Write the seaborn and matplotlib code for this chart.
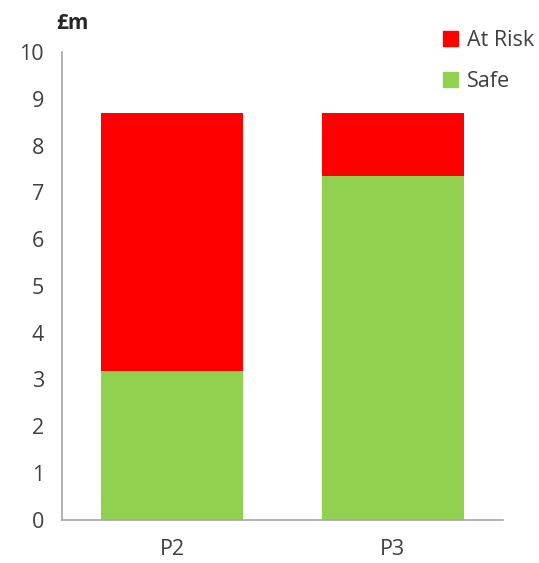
import matplotlib
matplotlib.use("Agg")
import matplotlib.pyplot as plt
import seaborn as sns
import pandas as pd
from matplotlib.patches import Patch

categories = ["P2", "P3"]
safe = [3.17, 7.34]
at_risk = [5.52, 1.35]
yticks = list(range(0, 11))

sns.set_theme(style="white")
plt.rcParams['font.family'] = ['Open Sans', 'DejaVu Sans']

df = pd.DataFrame({"cat": categories, "safe": safe, "at_risk": at_risk})
df["total"] = df["safe"] + df["at_risk"]

fig = plt.figure(figsize=(5.39, 5.63), dpi=100)
ax = fig.add_axes([0.115, 0.077, 0.818, 0.8306])

red = "#FF0000"
green = "#92D050"
sns.barplot(data=df, x="cat", y="total", color=red, width=0.645, ax=ax, saturation=1, edgecolor="none")
sns.barplot(data=df, x="cat", y="safe", color=green, width=0.645, ax=ax, saturation=1, edgecolor="none")

ax.set_xlim(-0.5, 1.5)
ax.set_ylim(0, 10)
ax.set_yticks(yticks)
ax.set_yticklabels([str(t) for t in yticks])
ax.set_xlabel("")
ax.set_ylabel("")
txtc = "#404040"
ax.tick_params(axis="both", length=0, labelsize=15.5, colors=txtc)
ax.tick_params(axis="y", pad=13)
ax.tick_params(axis="x", pad=14)
for s in ["top", "right"]:
    ax.spines[s].set_visible(False)
for s in ["left", "bottom"]:
    ax.spines[s].set_color("#A6A6A6")
    ax.spines[s].set_linewidth(1.2)

fig.text(0.104, 0.958, "£m", fontsize=15, fontweight="bold", color="#262626", ha="left", va="center")

handles = [Patch(color=red, label="At Risk"), Patch(color=green, label="Safe")]
fig.legend(handles=handles, loc="upper left", bbox_to_anchor=(0.805, 0.962), frameon=False,
           fontsize=15.5, handlelength=0.7, handleheight=0.7, handletextpad=0.45,
           labelspacing=0.92, labelcolor=txtc, borderaxespad=0)

fig.savefig("out.png", dpi=100)
